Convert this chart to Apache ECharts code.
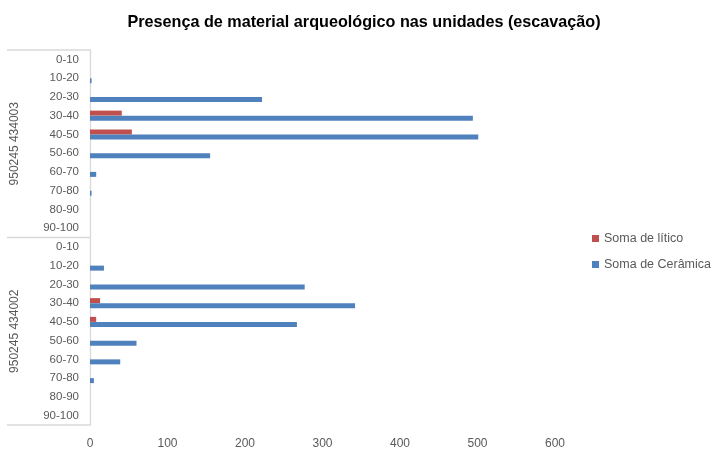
<!DOCTYPE html>
<html>
<head>
<meta charset="utf-8">
<script src="https://cdn.jsdelivr.net/npm/echarts@6/dist/echarts.min.js"></script>
<style>
  html, body { margin: 0; padding: 0; background: #fff; }
  #chart { width: 717px; height: 451px; }
</style>
</head>
<body>
<div id="chart"></div>
<script>
// Excavation units (outer category) and depth intervals in cm (inner category)
const units = ['950245 434003', '950245 434002'];
const depths = ['0-10', '10-20', '20-30', '30-40', '40-50', '50-60', '60-70', '70-80', '80-90', '90-100'];

// Lithic counts per depth, one array per unit
const liticoUnitA = [null, null, null, 41, 54, null, null, null, null, null];
const liticoUnitB = [null, null, null, 13, 8, null, null, null, null, null];

// Ceramic counts per depth, one array per unit
const ceramicaUnitA = [null, 2, 222, 494, 501, 155, 8, 2, null, null];
const ceramicaUnitB = [null, 18, 277, 342, 267, 60, 39, 5, null, null];

const xTicks = [0, 100, 200, 300, 400, 500, 600];

const categories = depths.concat(depths);
const litico = liticoUnitA.concat(liticoUnitB);
const ceramica = ceramicaUnitA.concat(ceramicaUnitB);

const grid = { left: 90, top: 50, width: 465, height: 375 };
const lineColor = '#d9d9d9';
const textColor = '#595959';
const font = '"Liberation Sans", Arial, sans-serif';

const chart = echarts.init(document.getElementById('chart'));

// Outer-category brackets and rotated unit labels
const graphics = [];
const groupH = grid.height / units.length;
for (let g = 0; g <= units.length; g++) {
  const y = grid.top + g * groupH;
  graphics.push({
    type: 'line',
    shape: { x1: 7, y1: y, x2: grid.left, y2: y },
    style: { stroke: lineColor, lineWidth: 1.3 },
    silent: true
  });
}
units.forEach((u, g) => {
  graphics.push({
    type: 'text',
    x: 15,
    y: grid.top + (g + 0.5) * groupH,
    rotation: Math.PI / 2,
    style: {
      text: u,
      font: '12px ' + font,
      fill: textColor,
      align: 'center',
      verticalAlign: 'middle'
    },
    silent: true
  });
});

chart.setOption({
  animation: false,
  textStyle: { fontFamily: font },
  title: {
    text: 'Presença de material arqueológico nas unidades (escavação)',
    left: 359,
    textAlign: 'center',
    top: 10,
    textStyle: { fontSize: 16.2, fontWeight: 'bold', color: '#000', fontFamily: font }
  },
  legend: {
    orient: 'vertical',
    left: 587,
    top: 227,
    itemWidth: 7,
    itemHeight: 7,
    itemGap: 13,
    icon: 'rect',
    textStyle: { fontSize: 12.5, color: textColor, fontFamily: font },
    data: ['Soma de lítico', 'Soma de Cerâmica']
  },
  grid: grid,
  xAxis: {
    type: 'value',
    min: 0,
    max: 600,
    interval: 100,
    axisLine: { show: false },
    axisTick: { show: false },
    splitLine: { show: false },
    axisLabel: {
      fontSize: 12,
      color: textColor,
      margin: 13,
      formatter: v => (xTicks.indexOf(v) >= 0 ? String(v) : '')
    }
  },
  yAxis: {
    type: 'category',
    inverse: true,
    data: categories,
    axisLine: { show: true, lineStyle: { color: lineColor, width: 1.3 } },
    axisTick: { show: false },
    axisLabel: { fontSize: 11.5, color: textColor, margin: 11, interval: 0 }
  },
  series: [
    {
      name: 'Soma de lítico',
      type: 'bar',
      data: litico,
      barWidth: 5,
      barGap: '0%',
      itemStyle: { color: '#C0504D' }
    },
    {
      name: 'Soma de Cerâmica',
      type: 'bar',
      data: ceramica,
      barWidth: 5,
      barGap: '0%',
      itemStyle: { color: '#4F81BD' }
    }
  ],
  graphic: graphics
});
</script>
</body>
</html>
